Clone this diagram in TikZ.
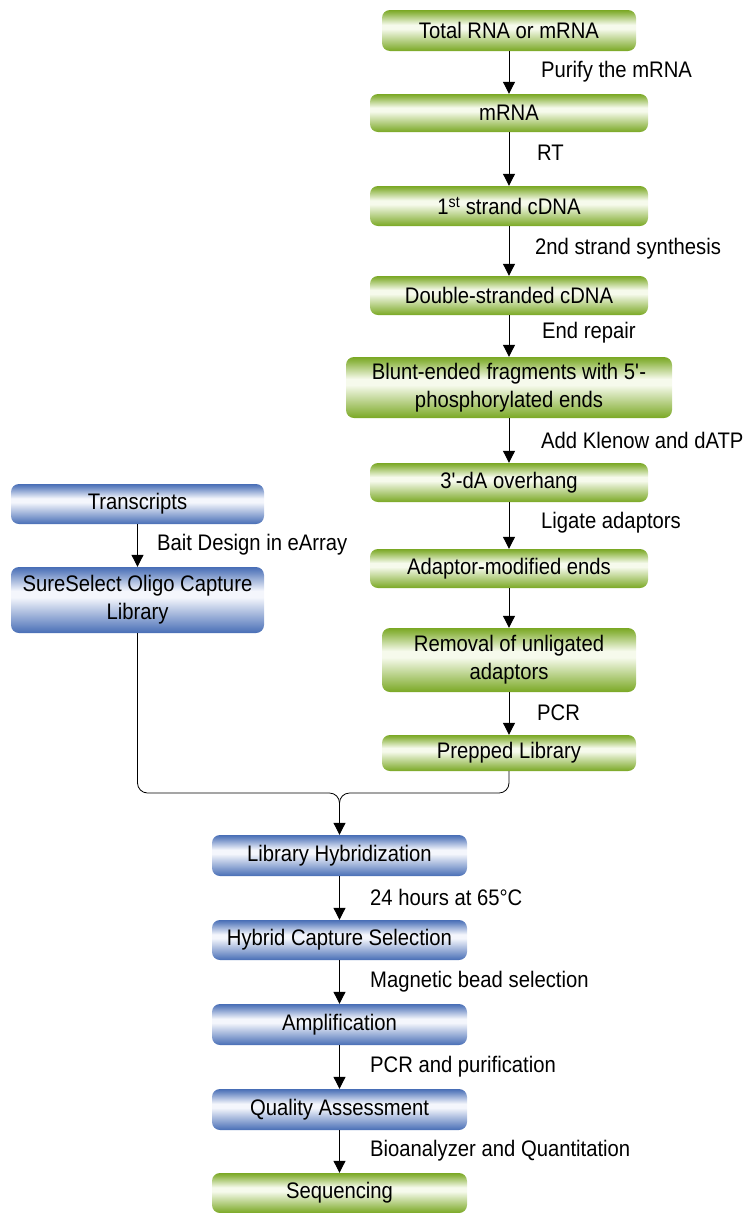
\documentclass[tikz,border=0pt]{standalone}
\usepackage{fontspec}
\setmainfont{Liberation Sans}[FakeStretch=0.9]
\usetikzlibrary{arrows.meta}
\definecolor{gd}{RGB}{122,168,36}
\definecolor{gl}{RGB}{246,250,236}
\definecolor{bd}{RGB}{72,110,182}
\definecolor{bl}{RGB}{244,246,252}
\pgfdeclareverticalshading{greenbar}{100bp}{color(0bp)=(gd); color(25bp)=(gd); color(29bp)=(gd!85!gl); color(52bp)=(gl); color(57bp)=(gl); color(71bp)=(gd!80!gl); color(75bp)=(gd); color(100bp)=(gd)}
\pgfdeclareverticalshading{bluebar}{100bp}{color(0bp)=(bd); color(25bp)=(bd); color(29bp)=(bd!85!bl); color(52bp)=(bl); color(57bp)=(bl); color(71bp)=(bd!80!bl); color(75bp)=(bd); color(100bp)=(bd)}
\tikzset{
  gbox/.style={rounded corners=8pt, shading=greenbar, inner sep=0pt, align=center, font=\fontsize{22.5}{28}\selectfont},
  bbox/.style={rounded corners=8pt, shading=bluebar, inner sep=0pt, align=center, font=\fontsize{22.5}{28}\selectfont},
  lab/.style={anchor=west, inner sep=0pt, font=\fontsize{22.5}{28}\selectfont},
  arr/.style={line width=1pt, -{Triangle[length=12pt,width=12pt]}},
  merge/.style={line width=0.8pt, rounded corners=10pt}
}
\begin{document}
\begin{tikzpicture}[x=1pt,y=-1pt]
\useasboundingbox (0,0) rectangle (749,1213);
% green column
\node[gbox, minimum width=254pt, minimum height=41pt] (tot) at (509,30.5) {Total RNA or mRNA};
\node[gbox, minimum width=278pt, minimum height=38pt] (mrna) at (509,113) {mRNA};
\node[gbox, minimum width=278pt, minimum height=40pt] (c1) at (509,206) {1\textsuperscript{st} strand cDNA};
\node[gbox, minimum width=278pt, minimum height=39pt] (ds) at (509,295.5) {Double-stranded cDNA};
\node[gbox, minimum width=326pt, minimum height=61pt] (bl) at (509,387.5) {Blunt-ended fragments with 5\textquotesingle-\\phosphorylated ends};
\node[gbox, minimum width=278pt, minimum height=39pt] (da) at (509,482.5) {3\textquotesingle-dA overhang};
\node[gbox, minimum width=278pt, minimum height=39pt] (ad) at (509,568.5) {Adaptor-modified ends};
\node[gbox, minimum width=254pt, minimum height=64pt] (rm) at (509,660) {Removal of unligated\\adaptors};
\node[gbox, minimum width=254pt, minimum height=36pt] (pl) at (509,753) {Prepped Library};
% blue left
\node[bbox, minimum width=253pt, minimum height=40pt] (tr) at (137.5,504) {Transcripts};
\node[bbox, minimum width=253pt, minimum height=66pt] (ss) at (137.5,600) {SureSelect Oligo Capture\\Library};
% bottom column
\node[bbox, minimum width=255pt, minimum height=41pt] (hy) at (339.5,855.5) {Library Hybridization};
\node[bbox, minimum width=255pt, minimum height=40pt] (hc) at (339.5,940) {Hybrid Capture Selection};
\node[bbox, minimum width=255pt, minimum height=41pt] (am) at (339.5,1024.5) {Amplification};
\node[bbox, minimum width=255pt, minimum height=41pt] (qa) at (339.5,1109.5) {Quality Assessment};
\node[gbox, minimum width=255pt, minimum height=40pt] (sq) at (339.5,1193) {Sequencing};
% arrows
\draw[arr] (tot) -- (mrna);
\draw[arr] (mrna) -- (c1);
\draw[arr] (c1) -- (ds);
\draw[arr] (ds) -- (bl);
\draw[arr] (bl) -- (da);
\draw[arr] (da) -- (ad);
\draw[arr] (ad) -- (rm);
\draw[arr] (rm) -- (pl);
\draw[arr] (tr) -- (ss);
\draw[arr] (hy) -- (hc);
\draw[arr] (hc) -- (am);
\draw[arr] (am) -- (qa);
\draw[arr] (qa) -- (sq);
% merge
\coordinate (jt) at (339.5,793);
\coordinate (j) at (339.5,805);
\draw[merge] (ss.south) |- (jt) -- (j);
\draw[merge] (pl.south) |- (jt) -- (j);
\draw[arr] (j) -- (hy);
% labels
\node[lab] (l1) at (541,72) {Purify the mRNA};
\node[lab] (l2) at (537,153) {RT};
\node[lab] (l3) at (535,249) {2nd strand synthesis};
\node[lab] (l4) at (542,333) {End repair};
\node[lab] (l5) at (541,440) {Add Klenow and dATP};
\node[lab] (l6) at (541,523) {Ligate adaptors};
\node[lab] (l7) at (537,713) {PCR};
\node[lab] (l8) at (157,545) {Bait Design in eArray};
\node[lab] (l9) at (370,897) {24 hours at 65°C};
\node[lab] (l10) at (370,982) {Magnetic bead selection};
\node[lab] (l11) at (370,1067) {PCR and purification};
\node[lab] (l12) at (370,1151) {Bioanalyzer and Quantitation};
\end{tikzpicture}
\end{document}
